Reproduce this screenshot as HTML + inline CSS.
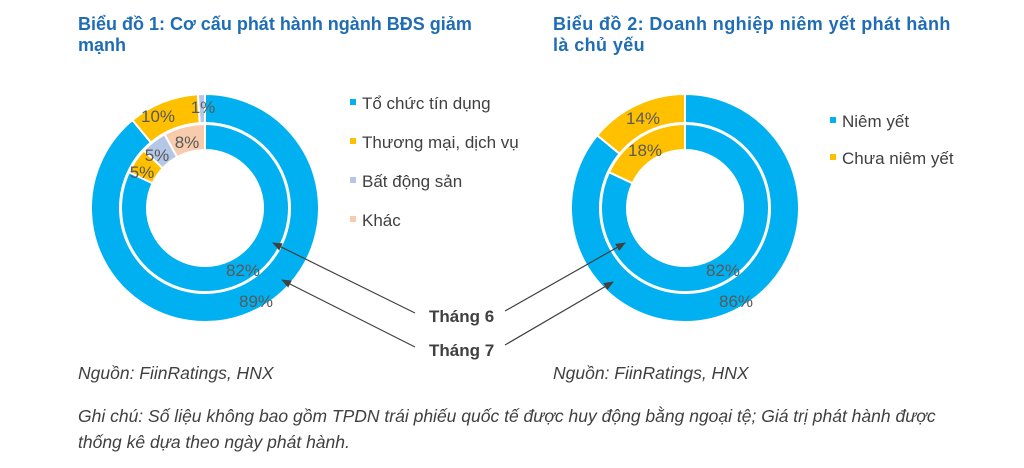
<!DOCTYPE html>
<html><head><meta charset="utf-8"><style>
body{margin:0;width:1024px;height:468px;background:#fff;font-family:"Liberation Sans",sans-serif;position:relative;overflow:hidden}
.t{position:absolute;color:#1f6db5;font-weight:bold;font-size:18px;line-height:21px}
.i{position:absolute;font-style:italic;font-size:17.5px;color:#404040}
</style></head><body>
<div class="t" style="left:78px;top:14px;width:420px">Biểu đồ 1: Cơ cấu phát hành ngành BĐS giảm mạnh</div>
<div class="t" style="left:553px;top:14px;width:412px;letter-spacing:0.4px">Biểu đồ 2: Doanh nghiệp niêm yết phát hành<br>là chủ yếu</div>
<div class="i" style="left:78px;top:363px">Nguồn: FiinRatings, HNX</div>
<div class="i" style="left:553px;top:363px">Nguồn: FiinRatings, HNX</div>
<div class="i" style="left:78px;top:403px;line-height:26px;width:900px">Ghi chú: Số liệu không bao gồm TPDN trái phiếu quốc tế được huy động bằng ngoại tệ; Giá trị phát hành được thống kê dựa theo ngày phát hành.</div>
<svg id="s" width="1024" height="468" style="position:absolute;left:0;top:0" font-family="Liberation Sans, sans-serif">
<defs><marker id="a" markerWidth="10" markerHeight="8" refX="9" refY="4" orient="auto" markerUnits="userSpaceOnUse"><path d="M0,0L10,4L0,8z" fill="#404040"/></marker></defs>
<g stroke="#404040" stroke-width="1.2" marker-end="url(#a)">
<line x1="415" y1="313" x2="273" y2="243"/><line x1="415" y1="347" x2="282" y2="280"/>
<line x1="505" y1="311" x2="625" y2="243"/><line x1="505" y1="345" x2="613" y2="282"/>
</g>
<g font-size="17" font-weight="bold" fill="#404040"><text x="429" y="322">Tháng 6</text><text x="429" y="356">Tháng 7</text></g>
<g font-size="17" fill="#404040">
<rect x="350" y="99" width="6" height="6" fill="#00b0f0"/><text x="362" y="109">Tổ chức tín dụng</text>
<rect x="350" y="138" width="6" height="6" fill="#ffc000"/><text x="362" y="148">Thương mại, dịch vụ</text>
<rect x="350" y="177" width="6" height="6" fill="#b4c7e7"/><text x="362" y="187">Bất động sản</text>
<rect x="350" y="216" width="6" height="6" fill="#f8cbad"/><text x="362" y="226">Khác</text>
<rect x="830" y="117" width="6" height="6" fill="#00b0f0"/><text x="842" y="127">Niêm yết</text>
<rect x="830" y="154" width="6" height="6" fill="#ffc000"/><text x="842" y="164">Chưa niêm yết</text>
</g>
</svg>
<script>
var s=document.getElementById('s'),N='http://www.w3.org/2000/svg';
function ring(cx,cy,r0,r1,vals,cols){var a=0;vals.forEach(function(v,k){var b=a+v/100*2*Math.PI;
function p(r,t){return [cx+r*Math.sin(t),cy-r*Math.cos(t)]}
var A=p(r1,a),B=p(r1,b),C=p(r0,b),D=p(r0,a),l=(b-a)>Math.PI?1:0;
var e=document.createElementNS(N,'path');
e.setAttribute('d','M'+A+'A'+r1+','+r1+' 0 '+l+' 1 '+B+'L'+C+'A'+r0+','+r0+' 0 '+l+' 0 '+D+'Z');
e.setAttribute('fill',cols[k]);e.setAttribute('stroke','#fff');e.setAttribute('stroke-width','2');
s.insertBefore(e,s.firstChild.nextSibling);a=b;});}
var c=['#00b0f0','#ffc000','#b4c7e7','#f8cbad'];
ring(205,208,85,114,[89,10,1],c);ring(205,208,58,84,[82,5,5,8],c);
ring(685,208,85,114,[86,14],c);ring(685,208,58,84,[82,18],c);
function t(x,y,s2){var e=document.createElementNS(N,'text');e.setAttribute('x',x);e.setAttribute('y',y);e.setAttribute('font-size','17');e.setAttribute('fill','#595959');e.setAttribute('text-anchor','middle');e.textContent=s2;s.appendChild(e);}
t(243,276,'82%');t(256,307,'89%');t(158,122,'10%');t(203,113,'1%');t(187,148,'8%');t(157,161,'5%');t(142,178,'5%');
t(723,276,'82%');t(736,307,'86%');t(643,124,'14%');t(645,156,'18%');
</script>
</body></html>
